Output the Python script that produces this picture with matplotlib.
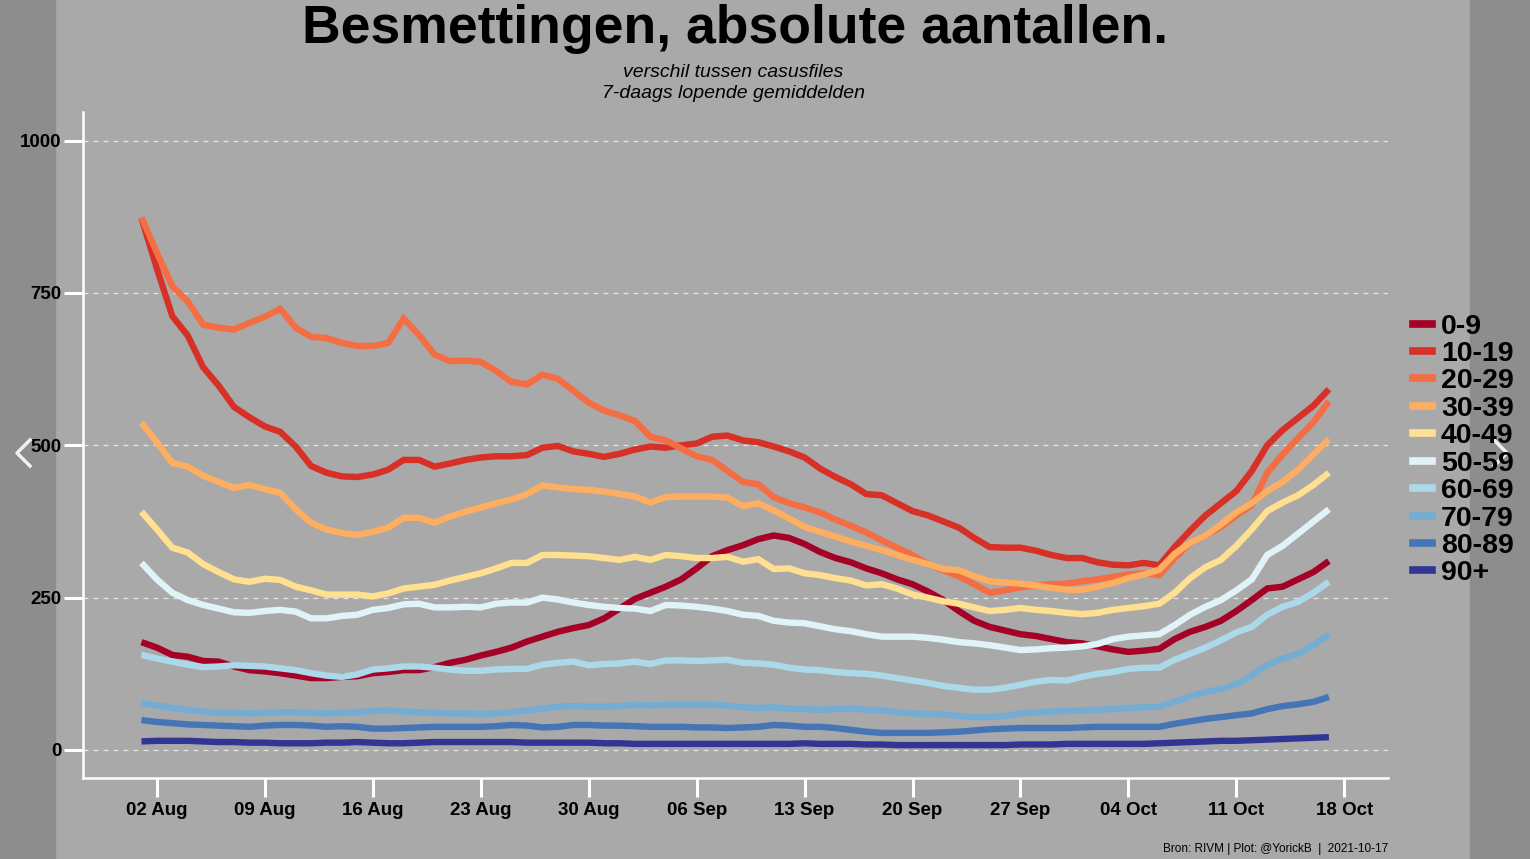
import numpy as np
import pandas as pd
import matplotlib
matplotlib.use("Agg")
import matplotlib.pyplot as plt
from matplotlib.lines import Line2D

plt.rcParams['font.family'] = ['Liberation Sans', 'DejaVu Sans']

# daily dates, 1 Aug - 17 Oct 2021
dates = pd.date_range("2021-08-01", "2021-10-17", freq="D")

groups = ["0-9", "10-19", "20-29", "30-39", "40-49",
          "50-59", "60-69", "70-79", "80-89", "90+"]
colors = ["#a50026", "#d73027", "#f46d43", "#fdae61", "#fee090",
          "#e0f3f8", "#abd9e9", "#74add1", "#4575b4", "#313695"]

v_0_9 = [177, 168, 156, 153, 146, 145, 137, 131, 129, 126, 122, 118, 118, 120, 121, 126,
         128, 131, 131, 136, 143, 148, 155, 161, 168, 178, 186, 194, 200, 205, 216, 232,
         248, 258, 268, 280, 298, 318, 328, 336, 346, 352, 348, 338, 325, 315, 308, 298,
         290, 280, 272, 260, 246, 228, 212, 202, 196, 190, 187, 182, 177, 175, 170, 165,
         161, 163, 166, 182, 194, 202, 212, 228, 246, 265, 268, 280, 292, 310]
v_10_19 = [873, 790, 712, 680, 628, 598, 563, 546, 531, 522, 498, 466, 455, 449, 448, 452,
           460, 476, 476, 465, 470, 476, 480, 482, 482, 484, 496, 499, 490, 486, 481, 486,
           493, 498, 496, 500, 503, 514, 516, 508, 505, 498, 490, 480, 462, 448, 436, 420,
           418, 405, 392, 385, 375, 365, 348, 333, 332, 332, 327, 320, 315, 315, 308, 304,
           303, 307, 303, 333, 360, 385, 405, 425, 458, 500, 525, 545, 565, 592]
v_20_29 = [874, 816, 761, 736, 698, 693, 690, 701, 711, 724, 693, 678, 676, 668, 663, 663,
           668, 708, 681, 649, 638, 639, 637, 622, 604, 600, 616, 609, 590, 570, 557, 549,
           540, 514, 508, 495, 482, 476, 458, 440, 436, 415, 405, 398, 390, 378, 368, 357,
           344, 332, 320, 305, 295, 285, 272, 258, 262, 267, 270, 272, 273, 277, 280, 284,
           288, 290, 287, 315, 340, 352, 366, 385, 402, 455, 485, 512, 538, 572]
v_30_39 = [537, 505, 471, 465, 450, 440, 430, 435, 428, 422, 395, 373, 362, 356, 353, 358,
           365, 381, 381, 373, 383, 391, 398, 405, 411, 420, 434, 431, 428, 427, 424, 420,
           416, 406, 415, 416, 416, 416, 414, 400, 405, 393, 380, 366, 358, 350, 342, 335,
           328, 320, 312, 305, 297, 295, 285, 277, 275, 273, 270, 266, 263, 263, 268, 274,
           282, 288, 296, 322, 340, 352, 370, 390, 405, 425, 440, 460, 485, 510]
v_40_49 = [391, 362, 332, 324, 305, 292, 280, 276, 281, 279, 268, 262, 255, 255, 255, 252,
           257, 265, 268, 271, 278, 284, 290, 298, 307, 307, 320, 320, 319, 318, 315, 312,
           317, 312, 320, 318, 315, 315, 317, 309, 313, 297, 298, 290, 287, 282, 278, 270,
           272, 265, 255, 250, 244, 240, 234, 228, 230, 233, 230, 228, 225, 223, 225, 230,
           233, 236, 240, 258, 282, 300, 312, 335, 362, 392, 406, 418, 435, 455]
v_50_59 = [307, 280, 258, 246, 238, 232, 226, 225, 228, 230, 227, 216, 216, 220, 222, 230,
           233, 239, 240, 234, 234, 235, 234, 240, 242, 242, 250, 247, 242, 238, 235, 233,
           232, 228, 238, 237, 235, 232, 228, 222, 220, 212, 209, 208, 203, 198, 195, 190,
           186, 186, 186, 184, 181, 177, 175, 172, 168, 164, 165, 167, 168, 170, 174, 182,
           186, 188, 190, 205, 222, 235, 246, 262, 280, 320, 335, 355, 375, 395]
v_60_69 = [156, 150, 145, 140, 136, 137, 139, 138, 137, 134, 131, 126, 122, 120, 124, 132,
           134, 137, 137, 135, 132, 130, 130, 132, 133, 133, 140, 143, 145, 139, 141, 142,
           145, 141, 147, 147, 146, 147, 148, 143, 142, 140, 135, 132, 131, 128, 126, 125,
           122, 118, 114, 110, 105, 102, 99, 99, 102, 107, 112, 115, 114, 120, 125, 128,
           133, 135, 135, 148, 158, 168, 180, 193, 202, 222, 235, 243, 258, 276]
v_70_79 = [77, 73, 69, 66, 63, 61, 61, 60, 61, 62, 62, 61, 60, 61, 62, 64,
           65, 63, 62, 61, 60, 60, 59, 60, 62, 65, 68, 71, 72, 71, 71, 72,
           74, 73, 74, 74, 74, 74, 73, 70, 69, 70, 68, 67, 66, 67, 68, 66,
           65, 62, 60, 59, 58, 56, 54, 54, 56, 60, 62, 63, 64, 65, 66, 67,
           69, 70, 71, 79, 88, 95, 100, 108, 122, 140, 150, 158, 172, 189]
v_80_89 = [49, 46, 44, 42, 41, 40, 39, 38, 40, 41, 41, 40, 38, 39, 38, 35,
           35, 36, 37, 38, 38, 38, 38, 39, 41, 40, 37, 38, 41, 41, 40, 40,
           39, 38, 38, 38, 37, 37, 36, 37, 38, 41, 40, 38, 38, 36, 33, 30,
           28, 28, 28, 28, 29, 30, 32, 34, 35, 36, 36, 36, 36, 37, 38, 38,
           38, 38, 38, 43, 47, 51, 54, 57, 60, 67, 72, 75, 79, 87]
v_90 = [14, 15, 15, 15, 14, 13, 13, 12, 12, 11, 11, 11, 12, 12, 13, 12,
        11, 11, 12, 13, 13, 13, 13, 13, 13, 12, 12, 12, 12, 12, 11, 11,
        10, 10, 10, 10, 10, 10, 10, 10, 10, 10, 10, 11, 10, 10, 10, 9,
        9, 8, 8, 8, 8, 8, 8, 8, 8, 9, 9, 9, 10, 10, 10, 10,
        10, 10, 11, 12, 13, 14, 15, 15, 16, 17, 18, 19, 20, 21]

series = [v_0_9, v_10_19, v_20_29, v_30_39, v_40_49,
          v_50_59, v_60_69, v_70_79, v_80_89, v_90]

bg = "#a9a9a9"
fig = plt.figure(figsize=(15.3, 8.59), dpi=100)
fig.patch.set_facecolor(bg)

# darker side strips of the viewer (behind everything)
fig.patches.append(plt.Rectangle((0, 0), 55 / 1530, 1, transform=fig.transFigure,
                                 color="#8d8d8d", zorder=-5))
fig.patches.append(plt.Rectangle((1470 / 1530, 0), 60 / 1530, 1, transform=fig.transFigure,
                                 color="#8d8d8d", zorder=-5))

ax = fig.add_axes([83 / 1530, 1 - 778 / 859, (1388 - 83) / 1530, (778 - 112) / 859])
ax.patch.set_alpha(0)

for g, c, v in zip(groups, colors, series):
    ax.plot(dates, v, color=c, lw=4.6, label=g, solid_capstyle="butt", solid_joinstyle="miter")

ax.set_xlim(pd.Timestamp("2021-07-28 05:00"), pd.Timestamp("2021-10-20 20:00"))
ax.set_ylim(-46, 1047)
ax.set_yticks([0, 250, 500, 750, 1000])
ticks = pd.date_range("2021-08-02", "2021-10-18", freq="7D")
ax.set_xticks(ticks)
ax.set_xticklabels([t.strftime("%d %b") for t in ticks])

ax.grid(axis="y", color="#e6e6e6", linestyle=(0, (4, 4)), linewidth=0.9)
ax.grid(axis="x", visible=False)
for s in ["top", "right"]:
    ax.spines[s].set_visible(False)
for s in ["left", "bottom"]:
    ax.spines[s].set_color("white")
    ax.spines[s].set_linewidth(1.8)
ax.tick_params(colors="white", width=2.2, length=13.5, labelcolor="black")
ax.tick_params(axis="y", pad=2)
ax.tick_params(axis="x", pad=4)
for lab in ax.get_xticklabels() + ax.get_yticklabels():
    lab.set_fontweight("bold")
    lab.set_fontsize(13.5)

handles = [Line2D([0], [0], color=c, lw=5.5) for c in colors]
leg = fig.legend(handles, groups, loc="center left", bbox_to_anchor=(1413 / 1530, 1 - 450 / 859),
                 frameon=False, handlelength=0.68, handletextpad=0.3, labelspacing=0.05,
                 borderpad=0, borderaxespad=0,
                 prop={"weight": "bold", "size": 20.5})

fig.text(735 / 1530, 1 - 29 / 859, "Besmettingen, absolute aantallen.", ha="center", va="center",
         fontsize=38.5, fontweight="bold")
fig.text(733 / 1530, 1 - 83 / 859, "verschil tussen casusfiles\n7-daags lopende gemiddelden",
         ha="center", va="center", fontsize=14, style="italic", linespacing=1.3)
fig.text(1388 / 1530, 1 - 849 / 859, "Bron: RIVM | Plot: @YorickB  |  2021-10-17",
         ha="right", va="center", fontsize=8.5)

# viewer arrows
fig.add_artist(Line2D([30 / 1530, 17 / 1530, 30 / 1530],
                      [1 - 440 / 859, 1 - 453 / 859, 1 - 466 / 859],
                      color="#f0f0f0", lw=2.5, transform=fig.transFigure))
fig.add_artist(Line2D([1494 / 1530, 1507 / 1530, 1494 / 1530],
                      [1 - 440 / 859, 1 - 453 / 859, 1 - 466 / 859],
                      color="#f0f0f0", lw=2.5, transform=fig.transFigure))

fig.savefig("out.png", dpi=100, facecolor=fig.get_facecolor())
